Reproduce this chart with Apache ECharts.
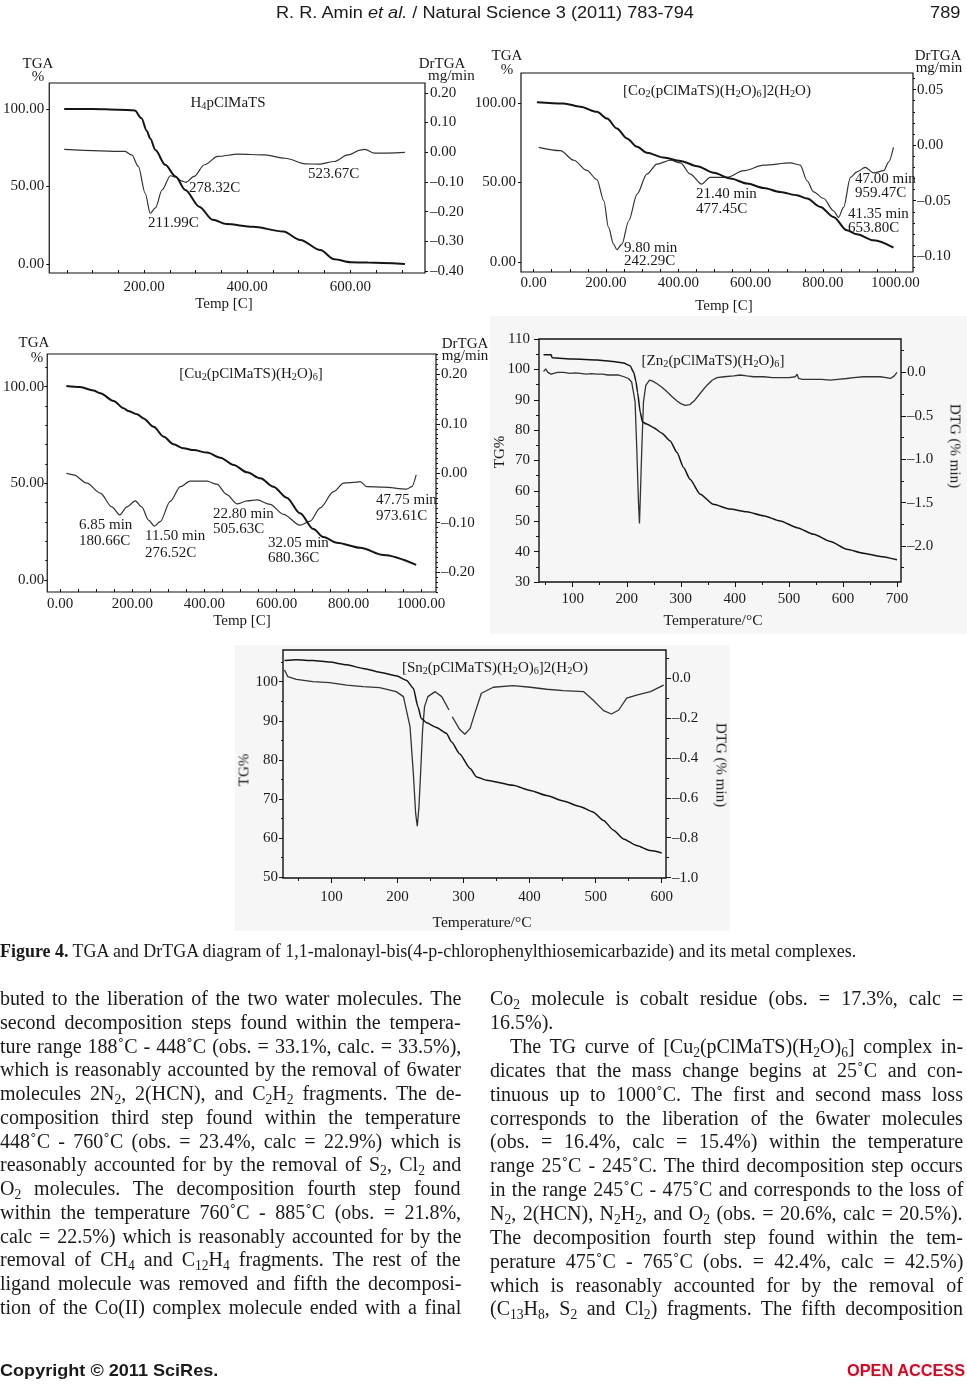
<!DOCTYPE html>
<html><head><meta charset="utf-8">
<script src="https://cdn.jsdelivr.net/npm/echarts@6/dist/echarts.min.js"></script>
<style>
html,body{margin:0;padding:0;background:#fff;}
#page{position:relative;width:967px;height:1388px;overflow:hidden;background:#fff;}
#chart{position:absolute;left:0;top:0;width:967px;height:1388px;z-index:2;}
.t{position:absolute;white-space:nowrap;line-height:1;color:#1a1a1a;font-family:"Liberation Serif","Times New Roman",serif;z-index:3;}
.t sub{font-size:0.68em;vertical-align:-0.28em;line-height:0;}
.bg{position:absolute;background:#f6f6f6;z-index:1;}
.sans{font-family:"Liberation Sans Narrow","Liberation Sans",Arial,sans-serif;}
</style></head>
<body><div id="page"><div id="chart"></div></div>
<script>
// ---------------- DATA ----------------
// Panel 1: H4pClMaTS  (temperature °C, TGA %) / (temperature °C, DrTGA mg/min)
const p1Tga = [[45,100],[100,100],[150,99.6],[182,99],[195,94],[205,86],[212,81],[222,73.5],[241,64],[261,56.5],[280,47.8],[307,37],[333,28.5],[360,25.8],[411,24],[470,21],[503,15.5],[542,9],[569,3],[601,1.1],[634,1],[706,0]];
const p1Dtg = [[45,0.01],[163,0.003],[176,-0.009],[189,-0.048],[202,-0.137],[212,-0.205],[222,-0.187],[235,-0.126],[251,-0.079],[262,-0.084],[272,-0.096],[281,-0.101],[297,-0.081],[317,-0.042],[343,-0.014],[382,-0.006],[434,-0.009],[474,-0.02],[513,-0.039],[539,-0.04],[569,-0.031],[595,-0.009],[621,0.008],[628,0.01],[647,-0.003],[706,0]];
// Panel 2: Co complex
const p2Tga = [[9,100.4],[83,99.6],[129,97.5],[175,94.3],[203,90.1],[230,83.9],[258,77.6],[286,72.3],[313,68.6],[359,65.6],[406,63.5],[452,60.2],[498,56],[544,52.4],[590,49.3],[636,46.5],[682,44],[728,41.9],[756,39.8],[793,34.6],[829,28.3],[866,19.9],[894,17.4],[940,13.6],[995,9]];
const p2Dtg = [[14,-0.002],[74,-0.005],[111,-0.0136],[147,-0.0227],[175,-0.031],[194,-0.05],[207,-0.074],[221,-0.089],[230,-0.094],[244,-0.089],[263,-0.068],[286,-0.044],[313,-0.026],[341,-0.017],[378,-0.0136],[406,-0.016],[433,-0.026],[465,-0.035],[488,-0.029],[535,-0.029],[581,-0.023],[636,-0.018],[710,-0.016],[737,-0.018],[756,-0.032],[774,-0.042],[802,-0.048],[829,-0.059],[843,-0.065],[857,-0.056],[876,-0.029],[894,-0.024],[917,-0.02],[940,-0.025],[968,-0.023],[982,-0.015],[995,-0.002]];
// Panel 3: Cu complex
const p3Tga = [[17,100.3],[55,99.8],[92,98],[111,96.6],[148,92.6],[176,88.8],[189,87.4],[213,85.7],[231,83.6],[259,79.3],[287,74.1],[314,70.2],[342,68.1],[370,67.2],[407,65.9],[444,63.3],[481,59.5],[518,55.7],[555,52.6],[591,48.3],[628,42.6],[665,34.5],[702,26.4],[730,22.2],[767,19.3],[832,16.7],[896,12.9],[987,7.8]];
const p3Dtg = [[17,0],[37,-0.003],[74,-0.02],[111,-0.04],[143,-0.068],[165,-0.084],[185,-0.068],[208,-0.056],[226,-0.068],[245,-0.095],[261,-0.107],[277,-0.098],[305,-0.057],[333,-0.027],[360,-0.016],[407,-0.016],[434,-0.022],[462,-0.043],[490,-0.062],[518,-0.056],[546,-0.054],[582,-0.063],[619,-0.083],[665,-0.105],[693,-0.097],[721,-0.07],[758,-0.037],[786,-0.02],[823,-0.018],[832,-0.017],[850,-0.027],[896,-0.028],[961,-0.032],[975,-0.027],[987,-0.003]];
// Panel 4: Zn complex (TG %, DTG %/min)
const p4Tg = [[46,104.8],[60,104.8],[62,103.8],[101,103.4],[145,103.1],[175,102.6],[194,102.1],[206,101.2],[213,99],[217,96],[220,92.4],[225,85.8],[229,82.7],[237,82],[249,80.9],[265,79],[280,76.5],[293,72.6],[305,67.7],[317,63.8],[336,58.9],[360,55.6],[391,54],[422,53.1],[453,51.8],[484,50.1],[515,47.9],[546,45.7],[577,43.3],[607,40.8],[638,39.5],[669,38.4],[700,37.3]];
const p4Dtg = [[46,0.01],[50,0.04],[54,0],[60,-0.02],[65,-0.01],[72,0],[83,0],[95,-0.01],[105,-0.005],[114,-0.01],[125,-0.02],[135,-0.015],[145,-0.02],[155,-0.02],[165,-0.03],[175,-0.03],[185,-0.03],[195,-0.05],[203,-0.07],[209,-0.11],[215.4,-0.34],[218.5,-0.88],[221.6,-1.49],[223.5,-1.74],[225.5,-1.35],[227.8,-0.88],[230.9,-0.34],[235.2,-0.15],[242,-0.09],[248,-0.1],[256,-0.13],[265,-0.17],[274,-0.22],[284,-0.28],[293,-0.33],[300,-0.36],[308,-0.38],[317,-0.37],[326,-0.32],[336,-0.24],[348,-0.15],[358,-0.09],[367,-0.06],[380,-0.05],[398,-0.04],[410,-0.03],[422,-0.04],[435,-0.05],[453,-0.05],[470,-0.06],[484,-0.06],[500,-0.06],[512,-0.05],[515,-0.02],[518,-0.07],[525,-0.08],[546,-0.08],[560,-0.08],[577,-0.09],[590,-0.08],[607,-0.07],[620,-0.06],[638,-0.05],[655,-0.05],[669,-0.05],[680,-0.06],[688,-0.07],[695,-0.04],[700,0]];
// Panel 5: Sn complex
const p5Tg = [[29,105.4],[47,105.6],[72,105.4],[97,105],[123,104.3],[148,103.4],[173,102.4],[198,101.5],[214,100.3],[224,98.3],[231,93.6],[236,90.6],[244,89.5],[259,88.3],[274,86.8],[282,84.6],[294,81.6],[310,77.8],[320,75.6],[335,74.8],[375,73.5],[401,72.2],[426,70.9],[451,69.5],[476,68.1],[496,66.7],[512,64.5],[527,62],[542,59.8],[562,58.1],[583,56.8],[600,56.2]];
const p5Dtg = [[29,0.042],[34,0.008],[47,-0.005],[72,-0.017],[97,-0.022],[123,-0.034],[148,-0.042],[173,-0.047],[198,-0.067],[209,-0.092],[219,-0.243],[224,-0.477],[227.5,-0.678],[230,-0.742],[232.5,-0.645],[235,-0.477],[238,-0.26],[241,-0.142],[246,-0.092],[257,-0.067],[267,-0.092],[278,-0.159],[280,null],[283,-0.193],[294,-0.256],[302,-0.281],[310,-0.251],[317,-0.176],[327,-0.075],[345,-0.045],[375,-0.037],[401,-0.045],[426,-0.055],[451,-0.062],[482,-0.067],[496,-0.109],[512,-0.162],[524,-0.179],[535,-0.159],[547,-0.1],[562,-0.084],[583,-0.067],[603,-0.034]];

// Tick label values
const p1XLabels = [200,400,600], p1LLabels = [0,50,100], p1RLabels = [-0.4,-0.3,-0.2,-0.1,0,0.1,0.2];
const p2XLabels = [0,200,400,600,800,1000], p2LLabels = [0,50,100], p2RLabels = [-0.1,-0.05,0,0.05];
const p3XLabels = [0,200,400,600,800,1000], p3LLabels = [0,50,100], p3RLabels = [-0.2,-0.1,0,0.1,0.2];
const p4XLabels = [100,200,300,400,500,600,700], p4LLabels = [30,40,50,60,70,80,90,100,110], p4RLabels = [-2,-1.5,-1,-0.5,0];
const p5XLabels = [100,200,300,400,500,600], p5LLabels = [50,60,70,80,90,100], p5RLabels = [-1,-0.8,-0.6,-0.4,-0.2,0];

// ---------------- CHART ----------------
const range=(a,b,s)=>{const r=[];for(let v=a;v<=b+s*1e-6;v+=s)r.push(Math.round(v*1e6)/1e6);return r;};
const fmt2=v=>(v<-1e-9?'\u2013':'')+Math.abs(v).toFixed(2);
const fmt1=v=>(v<-1e-9?'\u2013':'')+Math.abs(v).toFixed(1);
const fmt0=v=>String(Math.round(v));
const FONT='Liberation Serif';
const grids=[],xAxes=[],yAxes=[],series=[];

function addAxis(list,base,major,minor){
  const ax=Object.assign({type:'value',axisLine:{show:false,onZero:false},splitLine:{show:false},splitArea:{show:false}},base);
  ax.axisTick={show:true,inside:!!major.inside,length:major.len,customValues:major.ticks||major.labels,lineStyle:{color:'#111',width:1}};
  ax.axisLabel={show:true,customValues:major.labels,formatter:major.fmt,margin:major.margin,color:'#1a1a1a',fontFamily:FONT,fontSize:major.size||15};
  const idx=list.push(ax)-1;
  if(minor){
    list.push(Object.assign({type:'value',axisLine:{show:false,onZero:false},splitLine:{show:false},axisLabel:{show:false},
      axisTick:{show:true,inside:!!minor.inside,length:minor.len,customValues:minor.ticks,lineStyle:{color:'#111',width:1}}},base));
  }
  return idx;
}
function addLine(data,xi,yi,w,color,smooth){
  series.push({type:'line',data,xAxisIndex:xi,yAxisIndex:yi,showSymbol:false,symbol:'none',smooth:smooth,smoothMonotone:'x',
    connectNulls:false,silent:true,animation:false,lineStyle:{width:w,color:color}});
}
function panel(g,bw,x,yl,yr,tg,dtg,wT,wD,sT,sD){
  const gi=grids.push(Object.assign({show:true,borderColor:'#111',borderWidth:bw,backgroundColor:'transparent'},g))-1;
  const xi=addAxis(xAxes,{gridIndex:gi,position:'bottom',min:x.min,max:x.max},x.major,x.minor);
  const yli=addAxis(yAxes,{gridIndex:gi,position:'left',min:yl.min,max:yl.max},yl.major,yl.minor);
  const yri=addAxis(yAxes,{gridIndex:gi,position:'right',min:yr.min,max:yr.max},yr.major,yr.minor);
  addLine(dtg,xi,yri,wD,'#333',sD);
  addLine(tg,xi,yli,wT,'#151515',sT);
}
// Panel 1
panel({left:48,top:83,width:377,height:190},1.2,
  {min:16,max:745,major:{labels:p1XLabels,ticks:range(50,700,50),fmt:fmt2,margin:7,len:3,inside:true}},
  {min:-5.8,max:116.8,major:{labels:p1LLabels,fmt:fmt2,margin:5,len:3}},
  {min:-0.406,max:0.233,major:{labels:p1RLabels,fmt:fmt2,margin:5,len:3}},
  p1Tga,p1Dtg,2,1.2,0.3,0.3);
// Panel 2
panel({left:521,top:73,width:392,height:199},1.2,
  {min:-35,max:1049,major:{labels:p2XLabels,ticks:range(0,1000,50),fmt:fmt2,margin:4,len:3,inside:true}},
  {min:-6.3,max:118.7,major:{labels:p2LLabels,fmt:fmt2,margin:5,len:3}},
  {min:-0.1141,max:0.0649,major:{labels:p2RLabels,fmt:fmt2,margin:4,len:3},minor:{ticks:range(-0.11,0.06,0.01),len:2}},
  p2Tga,p2Dtg,2,1.2,0.3,0.3);
// Panel 3
panel({left:47,top:354,width:389,height:238},1.2,
  {min:-36,max:1042,major:{labels:p3XLabels,ticks:range(0,1000,50),fmt:fmt2,margin:5,len:3,inside:true}},
  {min:-6.2,max:116.9,major:{labels:p3LLabels,fmt:fmt2,margin:3,len:3},minor:{ticks:range(0,110,10),len:2}},
  {min:-0.2403,max:0.2415,major:{labels:p3RLabels,fmt:fmt2,margin:5,len:4},minor:{ticks:range(-0.24,0.24,0.01),len:2}},
  p3Tga,p3Dtg,2,1.2,0.3,0.3);
// Panel 4
panel({left:539,top:339,width:362,height:243},1.4,
  {min:37.6,max:707.4,major:{labels:p4XLabels,fmt:fmt0,margin:10,len:5},minor:{ticks:range(50,700,50),len:3}},
  {min:30,max:110,major:{labels:p4LLabels,fmt:fmt0,margin:9,len:5},minor:{ticks:range(35,105,5),len:3}},
  {min:-2.415,max:0.385,major:{labels:p4RLabels,fmt:fmt1,margin:6,len:5},minor:{ticks:range(-2.25,0.25,0.25),len:3}},
  p4Tg,p4Dtg,1.5,1.3,0.2,false);
// Panel 5
panel({left:283,top:650,width:383,height:228},1.4,
  {min:26.7,max:606.5,major:{labels:p5XLabels,fmt:fmt0,margin:12,len:5},minor:{ticks:range(50,600,50),len:3}},
  {min:49.8,max:108.1,major:{labels:p5LLabels,fmt:fmt0,margin:5,len:4},minor:{ticks:range(55,105,5),len:2}},
  {min:-1.002,max:0.142,major:{labels:p5RLabels,fmt:fmt1,margin:6,len:5},minor:{ticks:range(-0.9,0.1,0.1),len:3}},
  p5Tg,p5Dtg,1.5,1.3,0.2,false);

const chart=echarts.init(document.getElementById('chart'),null,{renderer:'canvas'});
chart.setOption({animation:false,backgroundColor:'transparent',grid:grids,xAxis:xAxes,yAxis:yAxes,series:series});

// ---------------- TEXT ----------------
const page=document.getElementById('page');
function addBg(x,y,w,h){const d=document.createElement('div');d.className='bg';Object.assign(d.style,{left:x+'px',top:y+'px',width:w+'px',height:h+'px'});page.appendChild(d);}
addBg(490,316,477,318);
addBg(235,645,495,286);

const chartTexts=[
 // panel 1
 {h:'TGA',x:38,y:63},{h:'%',x:38,y:76},{h:'DrTGA',x:442,y:63},{h:'mg/min',x:428,y:75,a:'l'},
 {h:'H<sub>4</sub>pClMaTS',x:228,y:102},{h:'211.99C',x:148,y:222,a:'l'},{h:'278.32C',x:189,y:187,a:'l'},{h:'523.67C',x:308,y:173,a:'l'},
 {h:'Temp [C]',x:224,y:303},
 // panel 2
 {h:'TGA',x:507,y:55},{h:'%',x:507,y:69},{h:'DrTGA',x:938,y:55},{h:'mg/min',x:939,y:67},
 {h:'[Co<sub>2</sub>(pClMaTS)(H<sub>2</sub>O)<sub>6</sub>]2(H<sub>2</sub>O)',x:717,y:90},
 {h:'9.80 min',x:624,y:247,a:'l'},{h:'242.29C',x:624,y:260,a:'l'},
 {h:'21.40 min',x:696,y:193,a:'l'},{h:'477.45C',x:696,y:208,a:'l'},
 {h:'47.00 min',x:855,y:178,a:'l'},{h:'959.47C',x:855,y:192,a:'l'},
 {h:'41.35 min',x:848,y:213,a:'l'},{h:'653.80C',x:848,y:227,a:'l'},
 {h:'Temp [C]',x:724,y:305},
 // panel 3
 {h:'TGA',x:34,y:342},{h:'%',x:37,y:357},{h:'DrTGA',x:465,y:343},{h:'mg/min',x:465,y:355},
 {h:'[Cu<sub>2</sub>(pClMaTS)(H<sub>2</sub>O)<sub>6</sub>]',x:251,y:373},
 {h:'6.85 min',x:79,y:524,a:'l'},{h:'180.66C',x:79,y:540,a:'l'},
 {h:'11.50 min',x:145,y:535,a:'l'},{h:'276.52C',x:145,y:552,a:'l'},
 {h:'22.80 min',x:213,y:513,a:'l'},{h:'505.63C',x:213,y:528,a:'l'},
 {h:'32.05 min',x:268,y:542,a:'l'},{h:'680.36C',x:268,y:557,a:'l'},
 {h:'47.75 min',x:376,y:499,a:'l'},{h:'973.61C',x:376,y:515,a:'l'},
 {h:'Temp [C]',x:242,y:620},
 // panel 4
 {h:'[Zn<sub>2</sub>(pClMaTS)(H<sub>2</sub>O)<sub>6</sub>]',x:713,y:360},
 {h:'TG%',x:499,y:452,r:-90},{h:'DTG (% min)',x:955,y:446,r:90},{h:'Temperature/°C',x:713,y:620,s:15.5},
 // panel 5
 {h:'[Sn<sub>2</sub>(pClMaTS)(H<sub>2</sub>O)<sub>6</sub>]2(H<sub>2</sub>O)',x:495,y:667},
 {h:'TG%',x:244,y:770,r:-90},{h:'DTG (% min)',x:721,y:765,r:90},{h:'Temperature/°C',x:482,y:922,s:15.5}
];
chartTexts.forEach(o=>{
  const d=document.createElement('div');d.className='t';d.innerHTML=o.h;
  d.style.fontSize=(o.s||15)+'px';d.style.left=o.x+'px';d.style.top=o.y+'px';
  let tr=o.a==='l'?'translate(0,-50%)':'translate(-50%,-50%)';
  if(o.r)tr+=' rotate('+o.r+'deg)';
  d.style.transform=tr;page.appendChild(d);
});

function mk(html,cls,style){const d=document.createElement('div');d.className='t '+(cls||'');d.innerHTML=html;Object.assign(d.style,style||{});page.appendChild(d);return d;}
// header
const hdr=mk('R. R. Amin <i>et al.</i> / Natural Science 3 (2011) 783-794','sans',{fontSize:'17px',left:'276px',top:'4px',transformOrigin:'0 0'});
const hs=418/hdr.offsetWidth; hdr.style.transform='scaleX('+hs+')';
const pg=mk('789','sans',{fontSize:'17px',right:'7px',top:'4px',transformOrigin:'100% 0'}); pg.style.transform='scaleX('+hs+')';
// caption
const cap=mk('<b>Figure 4.</b> TGA and DrTGA diagram of 1,1-malonayl-bis(4-p-chlorophenylthiosemicarbazide) and its metal complexes.','',{fontSize:'15px',left:'0px',top:'952px',transform:'translateY(-50%)'});
cap.style.fontSize=(15*857/cap.offsetWidth)+'px';
// body text
const leftLines=[
"buted to the liberation of the two water molecules. The",
"second decomposition steps found within the tempera-",
"ture range 188˚C - 448˚C (obs. = 33.1%, calc. = 33.5%),",
"which is reasonably accounted by the removal of 6water",
"molecules 2N<sub>2</sub>, 2(HCN), and C<sub>2</sub>H<sub>2</sub> fragments. The de-",
"composition third step found within the temperature",
"448˚C - 760˚C (obs. = 23.4%, calc = 22.9%) which is",
"reasonably accounted for by the removal of S<sub>2</sub>, Cl<sub>2</sub> and",
"O<sub>2</sub> molecules. The decomposition fourth step found",
"within the temperature 760˚C - 885˚C (obs. = 21.8%,",
"calc = 22.5%) which is reasonably accounted for by the",
"removal of CH<sub>4</sub> and C<sub>12</sub>H<sub>4</sub> fragments. The rest of the",
"ligand molecule was removed and fifth the decomposi-",
"tion of the Co(II) complex molecule ended with a final"];
const rightLines=[
"Co<sub>2</sub> molecule is cobalt residue (obs. = 17.3%, calc =",
"16.5%).",
"The TG curve of [Cu<sub>2</sub>(pClMaTS)(H<sub>2</sub>O)<sub>6</sub>] complex in-",
"dicates that the mass change begins at 25˚C and con-",
"tinuous up to 1000˚C. The first and second mass loss",
"corresponds to the liberation of the 6water molecules",
"(obs. = 16.4%, calc = 15.4%) within the temperature",
"range 25˚C - 245˚C. The third decomposition step occurs",
"in the range 245˚C - 475˚C and corresponds to the loss of",
"N<sub>2</sub>, 2(HCN), N<sub>2</sub>H<sub>2</sub>, and O<sub>2</sub> (obs. = 20.6%, calc = 20.5%).",
"The decomposition fourth step found within the tem-",
"perature 475˚C - 765˚C (obs. = 42.4%, calc = 42.5%)",
"which is reasonably accounted for by the removal of",
"(C<sub>13</sub>H<sub>8</sub>, S<sub>2</sub> and Cl<sub>2</sub>) fragments. The fifth decomposition"];
function bodyLine(html,x0,x1,y,justify){
  const d=mk(html,'',{fontSize:'20px',left:x0+'px',top:y+'px',transform:'translateY(-50%)'});
  if(justify){
    const sp=(d.textContent.match(/ /g)||[]).length;
    const w=d.offsetWidth;
    if(sp>0)d.style.wordSpacing=((x1-x0-w)/sp)+'px';
  }
}
leftLines.forEach((l,i)=>bodyLine(l,0,461,998+23.75*i,true));
rightLines.forEach((l,i)=>{
  if(i<2)bodyLine(l,490,963,998+23.75*i,i===0);
  else bodyLine(l,i===2?510:490,963,1046+23.85*(i-2),true);
});
// footer
const f1=mk('<b>Copyright © 2011 SciRes.</b>','sans',{fontSize:'17px',left:'0px',top:'1370px',transformOrigin:'0 50%'});
f1.style.transform='translateY(-50%) scaleX('+(218/f1.offsetWidth)+')';
const f2=mk('<b>OPEN ACCESS</b>','sans',{fontSize:'17px',right:'2px',top:'1370px',color:'#e3001b',transformOrigin:'100% 50%'});
f2.style.transform='translateY(-50%) scaleX('+(118/f2.offsetWidth)+')';
</script></body></html>
